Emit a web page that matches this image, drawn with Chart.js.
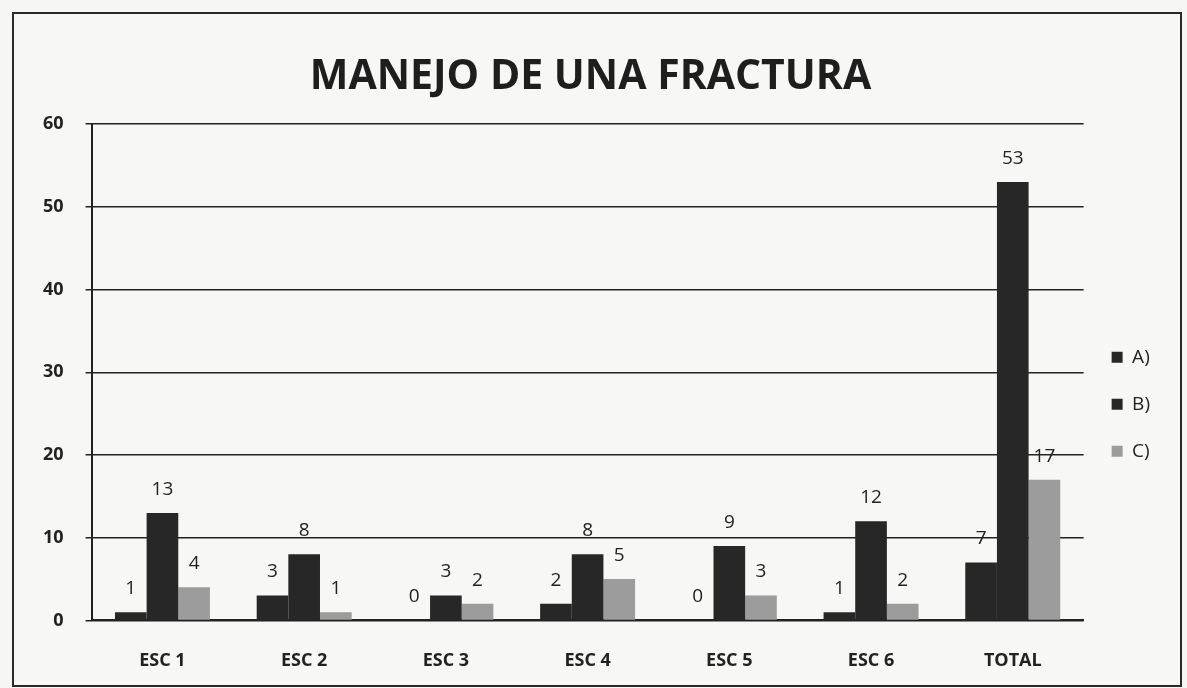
<!DOCTYPE html>
<html>
<head>
<meta charset="utf-8">
<script src="https://cdn.jsdelivr.net/npm/chart.js@4/dist/chart.umd.min.js"></script>
<style>
  html, body { margin: 0; padding: 0; background: #f6f6f4; }
  #frame { position: absolute; left: 12px; top: 12px; width: 1166px; height: 671px; border: 2px solid #2a2a2a; background: #f7f7f5; }
  canvas { display: block; }
</style>
</head>
<body>
<div id="frame"><canvas id="c" width="1166" height="671"></canvas></div>
<script>
const title = "MANEJO DE UNA FRACTURA";
const categories = ["ESC 1", "ESC 2", "ESC 3", "ESC 4", "ESC 5", "ESC 6", "TOTAL"];
const seriesNames = ["A)", "B)", "C)"];
const valuesA = [1, 3, 0, 2, 0, 1, 7];
const valuesB = [13, 8, 3, 8, 9, 12, 53];
const valuesC = [4, 1, 2, 5, 3, 2, 17];
const yTicks = [0, 10, 20, 30, 40, 50, 60];

const dataLabels = {
  id: 'dataLabels',
  afterDatasetsDraw(chart) {
    const ctx = chart.ctx;
    ctx.save();
    ctx.font = '19px "Open Sans", "DejaVu Sans", sans-serif';
    ctx.fillStyle = '#222';
    ctx.textAlign = 'center';
    ctx.textBaseline = 'bottom';
    chart.data.datasets.forEach((ds, i) => {
      const meta = chart.getDatasetMeta(i);
      meta.data.forEach((el, j) => {
        ctx.fillText(String(ds.data[j]), el.x, el.y - 14);
      });
    });
    ctx.restore();
  }
};

new Chart(document.getElementById('c'), {
  type: 'bar',
  data: {
    labels: categories,
    datasets: [
      { label: seriesNames[0], data: valuesA, backgroundColor: '#272727' },
      { label: seriesNames[1], data: valuesB, backgroundColor: '#272727' },
      { label: seriesNames[2], data: valuesC, backgroundColor: '#9c9c9c' }
    ]
  },
  options: {
    responsive: false,
    animation: false,
    layout: { padding: { left: 7, right: 20, top: 0, bottom: -17 } },
    datasets: { bar: { categoryPercentage: 0.67, barPercentage: 1.0 } },
    plugins: {
      title: {
        display: true,
        text: title,
        font: { family: '"Open Sans", sans-serif', size: 41, weight: 'bold' },
        color: '#1e1e1e',
        padding: { top: 39, bottom: 22 }
      },
      legend: {
        position: 'right',
        title: { display: true, text: ' ', font: { size: 12 }, padding: { top: 39, bottom: 39 } },
        labels: {
          boxWidth: 11, boxHeight: 11,
          padding: 28,
          color: '#222',
          font: { family: '"Open Sans", sans-serif', size: 19 }
        }
      },
      tooltip: { enabled: false }
    },
    scales: {
      x: {
        grid: { display: false, drawTicks: false },
        border: { color: '#222', width: 2 },
        ticks: { color: '#222', padding: 30, font: { family: '"Liberation Sans Narrow", "Open Sans", sans-serif', size: 18, weight: 'bold' } }
      },
      y: {
        min: 0, max: 60,
        afterBuildTicks(axis) { axis.ticks = yTicks.map(v => ({ value: v })); },
        grid: { color: '#222', lineWidth: 1.5, tickLength: 6 },
        border: { color: '#222', width: 2 },
        ticks: { color: '#222', padding: 22, font: { family: '"Open Sans", sans-serif', size: 18, weight: 'bold' } }
      }
    }
  },
  plugins: [dataLabels]
});
</script>
</body>
</html>
